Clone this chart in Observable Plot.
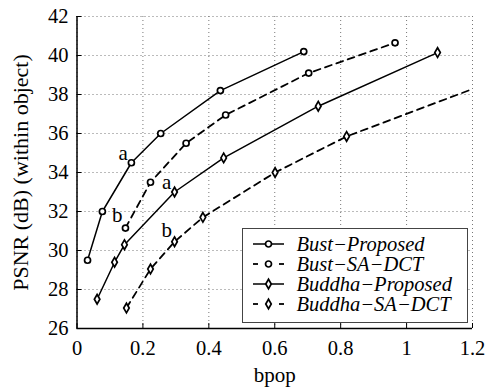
<!DOCTYPE html>
<html><head><meta charset="utf-8">
<script src="https://cdn.jsdelivr.net/npm/d3@7"></script>
<script src="https://cdn.jsdelivr.net/npm/@observablehq/plot@0.6"></script>
<style>
body{margin:0;background:#fff;}
#wrap{position:relative;width:487px;height:389px;}
#legend{position:absolute;left:241.5px;top:227.5px;width:226px;height:95px;border:1px solid #444;background:#fff;
  font-family:"Liberation Serif","Times New Roman",serif;font-style:italic;font-size:20.5px;padding-top:5px;box-sizing:border-box;}
.row{height:20px;line-height:20px;display:flex;align-items:center;white-space:nowrap;}
.row svg{flex:none;}
.row span{line-height:20px;}
</style>
</head><body>
<div id="wrap"></div>
<script>
// ---- data ----
const bustProposedX = [0.032, 0.077, 0.165, 0.254, 0.435, 0.688];
const bustProposedY = [29.5, 32.0, 34.5, 36.0, 38.2, 40.2];
const bustSaDctX = [0.147, 0.223, 0.331, 0.451, 0.703, 0.965];
const bustSaDctY = [31.15, 33.5, 35.5, 36.95, 39.1, 40.65];
const buddhaProposedX = [0.061, 0.114, 0.144, 0.296, 0.445, 0.732, 1.094];
const buddhaProposedY = [27.5, 29.4, 30.3, 33.0, 34.75, 37.4, 40.15];
const buddhaSaDctX = [0.15, 0.223, 0.296, 0.382, 0.601, 0.818];
const buddhaSaDctY = [27.05, 29.05, 30.45, 31.7, 34.0, 35.85];
const buddhaSaDctEdge = [1.2, 38.28]; // line continues off the right edge

const seriesNames = ["Bust\u2212Proposed", "Bust\u2212SA\u2212DCT", "Buddha\u2212Proposed", "Buddha\u2212SA\u2212DCT"];
const seriesDashed = [false, true, false, true];
const seriesSymbol = ["circle", "circle", "diamond", "diamond"];

const annotationText = ["a", "a", "b", "b"];
const annotationX = [0.14, 0.272, 0.122, 0.272];
const annotationY = [35.0, 33.5, 31.8, 31.05];

const xTicks = [0, 0.2, 0.4, 0.6, 0.8, 1, 1.2];
const xTickLabels = ["0", "0.2", "0.4", "0.6", "0.8", "1", "1.2"];
const yTicks = [26, 28, 30, 32, 34, 36, 38, 40, 42];
const yTickLabels = ["26", "28", "30", "32", "34", "36", "38", "40", "42"];
const xLabel = "bpop";
const yLabel = "PSNR (dB) (within object)";

// ---- build tables ----
const zip = (xs, ys) => xs.map((x, i) => ({x, y: ys[i]}));
const seriesPoints = [
  zip(bustProposedX, bustProposedY),
  zip(bustSaDctX, bustSaDctY),
  zip(buddhaProposedX, buddhaProposedY),
  zip(buddhaSaDctX, buddhaSaDctY)
];
const seriesLines = seriesPoints.map(p => p.slice());
seriesLines[3].push({x: buddhaSaDctEdge[0], y: buddhaSaDctEdge[1]});
const annotations = annotationText.map((t, i) => ({t, x: annotationX[i], y: annotationY[i]}));

const tickLenY = 5 / (312 / 16);
const tickLenX = 5 / (395.5 / 1.2);
const gridStyle = {stroke: "#777", strokeOpacity: 1, strokeWidth: 1, strokeDasharray: "1,3"};
const symR = s => s === "circle" ? 3 : 2.9;

const marks = [
  Plot.gridX(xTicks, gridStyle),
  Plot.gridY(yTicks, gridStyle),
  Plot.ruleX([xTicks[0]], {stroke: "#000", strokeWidth: 1.5}),
  Plot.ruleY([yTicks[0]], {stroke: "#000", strokeWidth: 1.5}),
  Plot.ruleX(xTicks, {x: d => d, y1: yTicks[0], y2: yTicks[0] + tickLenY, stroke: "#000"}),
  Plot.ruleY(yTicks, {y: d => d, x1: xTicks[0], x2: xTicks[0] + tickLenX, stroke: "#000"}),
  Plot.axisX(xTicks, {tickSize: 0, tickPadding: 12, tickFormat: d => xTickLabels[xTicks.indexOf(d)], label: null, fontSize: 20.5}),
  Plot.axisY(yTicks, {tickSize: 0, tickPadding: 8.5, tickFormat: d => yTickLabels[yTicks.indexOf(d)], label: null, fontSize: 20.5}),
  Plot.text([xLabel], {text: d => d, frameAnchor: "bottom", dy: 47, fontSize: 21, lineAnchor: "middle", textAnchor: "middle"}),
  Plot.text([yLabel], {text: d => d, frameAnchor: "left", dx: -56, rotate: -90, fontSize: 22, lineAnchor: "middle", textAnchor: "middle"})
];
seriesLines.forEach((pts, i) => {
  marks.push(Plot.line(pts, {x: "x", y: "y", stroke: "#000", strokeWidth: seriesDashed[i] ? 1.8 : 1.5,
    strokeDasharray: seriesDashed[i] ? "7,5" : null, clip: true}));
});
seriesPoints.forEach((pts, i) => {
  marks.push(Plot.dot(pts, {x: "x", y: "y", symbol: seriesSymbol[i], r: symR(seriesSymbol[i]),
    fill: "#fff", stroke: "#000", strokeWidth: 1.7}));
});
marks.push(Plot.text(annotations, {x: "x", y: "y", text: "t", fontSize: 21, lineAnchor: "middle"}));

const chart = Plot.plot({
  width: 487, height: 389,
  marginLeft: 76.5, marginRight: 15, marginTop: 16, marginBottom: 61,
  style: {fontFamily: '"Liberation Serif", "Times New Roman", serif', fontSize: "20px", color: "#000", background: "#fff", overflow: "visible"},
  x: {domain: [xTicks[0], xTicks[xTicks.length - 1]]},
  y: {domain: [yTicks[0], yTicks[yTicks.length - 1]]},
  marks
});
const wrap = document.getElementById("wrap");
wrap.appendChild(chart);

// ---- legend ----
const legend = document.createElement("div");
legend.id = "legend";
seriesNames.forEach((name, i) => {
  const row = document.createElement("div");
  row.className = "row";
  const svg = d3.create("svg").attr("width", 54).attr("height", 20);
  const cy = 10, x0 = 10, x1 = 41, cx = 25.5;
  if (seriesDashed[i]) {
    svg.append("line").attr("x1", x0).attr("x2", x0 + 5).attr("y1", cy).attr("y2", cy).attr("stroke", "#000").attr("stroke-width", 1.8);
    svg.append("line").attr("x1", x1 - 5).attr("x2", x1).attr("y1", cy).attr("y2", cy).attr("stroke", "#000").attr("stroke-width", 1.8);
  } else {
    svg.append("line").attr("x1", x0).attr("x2", x1).attr("y1", cy).attr("y2", cy).attr("stroke", "#000").attr("stroke-width", 1.5);
  }
  const r = symR(seriesSymbol[i]);
  const sym = d3.symbol(seriesSymbol[i] === "circle" ? d3.symbolCircle : d3.symbolDiamond, r * r * Math.PI);
  svg.append("path").attr("d", sym()).attr("transform", `translate(${cx},${cy})`).attr("fill", "#fff").attr("stroke", "#000").attr("stroke-width", 1.7);
  row.appendChild(svg.node());
  const span = document.createElement("span");
  span.textContent = name;
  row.appendChild(span);
  legend.appendChild(row);
});
wrap.appendChild(legend);
</script>
</body></html>
